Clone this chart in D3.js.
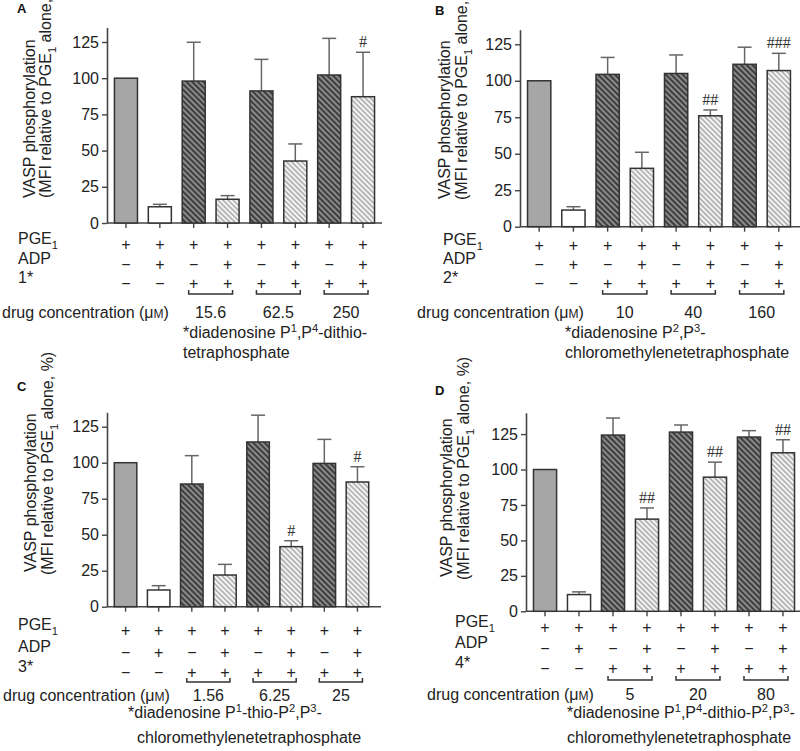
<!DOCTYPE html>
<meta charset="utf-8">
<style>
body { margin: 0; background: #fff; }
</style>
<svg width="800" height="751" id="fig"></svg>
<script src="https://d3js.org/d3.v7.min.js"></script>
<script>
// bar heights (% of PGE1 alone) and upper end of error bars
var valuesA = [100, 11.2, 98, 16.4, 91.2, 42.8, 102.2, 87.2];
var errTopA = [100, 12.9, 124.8, 18.9, 113, 54.6, 127.5, 117.9];
var signifA = ["", "", "", "", "", "", "", "#"];

var valuesB = [100, 11.4, 104.4, 40, 105, 76, 111.3, 107];
var errTopB = [100, 13.7, 116, 51, 117.7, 80, 123, 118.8];
var signifB = ["", "", "", "", "", "##", "", "###"];

var valuesC = [100, 11.6, 85.2, 22, 114.4, 41.7, 99.5, 86.6];
var errTopC = [100, 14.6, 104.9, 29.4, 133, 45.8, 116.2, 97.2];
var signifC = ["", "", "", "", "", "#", "", "#"];

var valuesD = [100, 11.8, 124.3, 65, 126.4, 94.6, 122.9, 111.8];
var errTopD = [100, 13.7, 136.3, 72.9, 131.4, 105.2, 127.4, 121];
var signifD = ["", "", "", "##", "", "##", "", "##"];

var panelNames = ["A", "B", "C", "D"];
var yTicks = [0, 25, 50, 75, 100, 125];
var yMax = [135, 135, 135, 140];

var pgeRow = ["+", "+", "+", "+", "+", "+", "+", "+"];
var adpRow = ["\u2212", "+", "\u2212", "+", "\u2212", "+", "\u2212", "+"];
var drugRow = ["\u2212", "\u2212", "+", "+", "+", "+", "+", "+"];
var drugNames = ["1*", "2*", "3*", "4*"];

var concA = ["15.6", "62.5", "250"];
var concB = ["10", "40", "160"];
var concC = ["1.56", "6.25", "25"];
var concD = ["5", "20", "80"];

var footA = ["*diadenosine P^1,P^4-dithio-", "tetraphosphate"];
var footB = ["*diadenosine P^2,P^3-", "chloromethylenetetraphosphate"];
var footC = ["*diadenosine P^1-thio-P^2,P^3-", "chloromethylenetetraphosphate"];
var footD = ["*diadenosine P^1,P^4-dithio-P^2,P^3-", "chloromethylenetetraphosphate"];

// bar style by position: 0 grey, 1 white, then drug alone / drug + ADP
var barStyle = ["grey", "white", "dark", "light", "dark", "light", "dark", "light"];

// pixel layout of each panel
var layout = [
  {letter: [17, 13], x0: 107, x1: 382, line1: 382, y0: 223, yTop: 27.5,
   title: [35, 51, 198, 198], rows: [244, 264, 283, 294, 312, 338, 358],
   lab: 18, concX: 2, foot: [183, 183]},
  {letter: [435, 15], x0: 520, x1: 798, line1: 800, y0: 226.7, yTop: 29.7,
   title: [450, 467, 199, 200], rows: [245, 264, 283, 294, 312, 338, 358],
   lab: 443, concX: 417, foot: [565, 565]},
  {letter: [17, 391], x0: 107, x1: 376, line1: 381, y0: 606.7, yTop: 412.3,
   title: [36, 53, 572, 575], rows: [630, 652, 672, 682, 695, 718, 743],
   lab: 18, concX: 3, foot: [128, 137]},
  {letter: [435, 395], x0: 526, x1: 802, line1: 802, y0: 611.3, yTop: 412.8,
   title: [452, 469, 577, 580], rows: [627, 648, 668, 680, 694, 718, 743],
   lab: 455, concX: 427, foot: [567, 567]}
];

var allValues = [valuesA, valuesB, valuesC, valuesD];
var allErr = [errTopA, errTopB, errTopC, errTopD];
var allSig = [signifA, signifB, signifC, signifD];
var allConc = [concA, concB, concC, concD];
var allFoot = [footA, footB, footC, footD];

var FONT = "Liberation Sans, Arial, sans-serif";
var svg = d3.select("#fig");
var defs = svg.append("defs");

function hatch(id, bg, fg, w, gap) {
  var p = defs.append("pattern")
    .attr("id", id)
    .attr("patternUnits", "userSpaceOnUse")
    .attr("width", gap).attr("height", gap)
    .attr("patternTransform", "rotate(-45)");
  p.append("rect").attr("width", gap).attr("height", gap).attr("fill", bg);
  p.append("line").attr("x1", gap / 2).attr("x2", gap / 2)
    .attr("y1", 0).attr("y2", gap)
    .attr("stroke", fg).attr("stroke-width", w);
}
hatch("darkHatch", "#8a8a8a", "#3e3e3e", 2, 4);
hatch("lightHatch", "#f4f4f4", "#9c9c9c", 1.3, 3.6);

var fills = {grey: "#a6a6a6", white: "#fff", dark: "url(#darkHatch)", light: "url(#lightHatch)"};

function label(g, fs) {
  return g.append("text")
    .style("font-family", FONT).style("font-size", (fs || 16) + "px").style("fill", "#222");
}

// text with ^x superscripts and _x subscripts
function rich(t, str, fs) {
  var parts = str.split(/([\^_]\d)/);
  var shift = 0;
  parts.forEach(function(p) {
    if (!p) return;
    if (p[0] === "^" || p[0] === "_") {
      var s = p[0] === "^" ? -0.38 * fs : 0.3 * fs;
      t.append("tspan").attr("dy", s - shift).style("font-size", (fs * 0.7) + "px").text(p[1]);
      shift = s;
    } else {
      t.append("tspan").attr("dy", -shift).text(p);
      shift = 0;
    }
  });
}

panelNames.forEach(function(name, pi) {
  var L = layout[pi];
  var vals = allValues[pi], errs = allErr[pi], sig = allSig[pi];
  var g = svg.append("g");

  var x = d3.scaleBand().domain(d3.range(vals.length))
    .range([L.x0, L.x1]).paddingInner(0.32).paddingOuter(0.22);
  var y = d3.scaleLinear().domain([0, yMax[pi]]).range([L.y0, L.yTop]);
  var bw = x.bandwidth();

  label(g, 13).style("font-weight", "bold").style("fill", "#111")
    .attr("x", L.letter[0]).attr("y", L.letter[1]).text(name);

  // y axis
  var ya = g.append("g").attr("transform", "translate(" + L.x0 + ",0)")
    .call(d3.axisLeft(y).tickValues(yTicks).tickSize(5).tickSizeOuter(0).tickPadding(3));
  ya.select(".domain").attr("stroke", "#444").attr("stroke-width", 1.6);
  ya.selectAll(".tick line").attr("stroke", "#444").attr("stroke-width", 1.4);
  ya.selectAll(".tick text").style("font-family", FONT).style("font-size", "16px").style("fill", "#222");

  // x axis (ticks only, no labels)
  var xa = g.append("g").attr("transform", "translate(0," + L.y0 + ")")
    .call(d3.axisBottom(x).tickSize(5).tickFormat(""));
  xa.select(".domain").remove();
  xa.selectAll(".tick line").attr("stroke", "#444").attr("stroke-width", 1.4);
  g.append("line").attr("x1", L.x0).attr("x2", L.line1)
    .attr("y1", L.y0).attr("y2", L.y0)
    .attr("stroke", "#444").attr("stroke-width", 1.6);

  // y title
  [["VASP phosphorylation", 0], ["(MFI relative to PGE_1 alone, %)", 1]].forEach(function(d) {
    var t = label(g, 16)
      .attr("transform", "translate(" + L.title[d[1]] + "," + L.title[2 + d[1]] + ") rotate(-90)");
    rich(t, d[0], 16);
  });

  // error bars
  vals.forEach(function(v, i) {
    if (errs[i] <= v) return;
    var cx = x(i) + bw / 2;
    g.append("line").attr("x1", cx).attr("x2", cx)
      .attr("y1", y(v)).attr("y2", y(errs[i]))
      .attr("stroke", "#666").attr("stroke-width", 1.5);
    g.append("line").attr("x1", cx - 7).attr("x2", cx + 7)
      .attr("y1", y(errs[i])).attr("y2", y(errs[i]))
      .attr("stroke", "#666").attr("stroke-width", 1.5);
  });

  // bars
  g.selectAll("rect.bar").data(vals).enter().append("rect")
    .attr("class", "bar")
    .attr("x", function(d, i) { return x(i); })
    .attr("y", function(d) { return y(d); })
    .attr("width", bw)
    .attr("height", function(d) { return L.y0 - y(d); })
    .attr("fill", function(d, i) { return fills[barStyle[i]]; })
    .attr("stroke", "#333").attr("stroke-width", 1.5);

  // significance marks
  g.selectAll("text.sig").data(sig).enter().append("text")
    .attr("class", "sig")
    .style("font-family", "Liberation Serif, serif").style("font-size", "16px").style("fill", "#333")
    .attr("text-anchor", "middle")
    .attr("x", function(d, i) { return x(i) + bw / 2; })
    .attr("y", function(d, i) { return y(errs[i]) - 5; })
    .text(function(d) { return d; });

  // condition table
  var rowLabels = ["PGE_1", "ADP", drugNames[pi]];
  [pgeRow, adpRow, drugRow].forEach(function(row, ri) {
    var ty = L.rows[ri];
    var lt = label(g, 16).attr("x", L.lab).attr("y", ty).attr("dy", "0.35em");
    rich(lt, rowLabels[ri], 16);
    row.forEach(function(s, i) {
      label(g, 16).attr("text-anchor", "middle")
        .attr("x", x(i) + bw / 2).attr("y", ty).attr("dy", "0.35em").text(s);
    });
  });

  // brackets and concentrations
  allConc[pi].forEach(function(c, k) {
    var a = x(2 + 2 * k) + bw / 2 - 5, b = x(3 + 2 * k) + bw / 2 + 5;
    var by = L.rows[3];
    g.append("path")
      .attr("d", "M" + a + "," + (by - 4) + "V" + by + "H" + b + "V" + (by - 4))
      .attr("fill", "none").attr("stroke", "#333").attr("stroke-width", 1.5);
    label(g, 16).attr("text-anchor", "middle")
      .attr("x", (a + b) / 2).attr("y", L.rows[4]).attr("dy", "0.35em").text(c);
  });
  var ct = label(g, 16).attr("x", L.concX).attr("y", L.rows[4]).attr("dy", "0.35em");
  ct.append("tspan").text("drug concentration (\u03bc");
  ct.append("tspan").style("font-size", "12px").text("M");
  ct.append("tspan").text(")");

  // footnote
  allFoot[pi].forEach(function(line, li) {
    var ft = label(g, 16).attr("x", L.foot[li]).attr("y", L.rows[5 + li]).attr("dy", "0.35em");
    rich(ft, line, 16);
  });
});
</script>
